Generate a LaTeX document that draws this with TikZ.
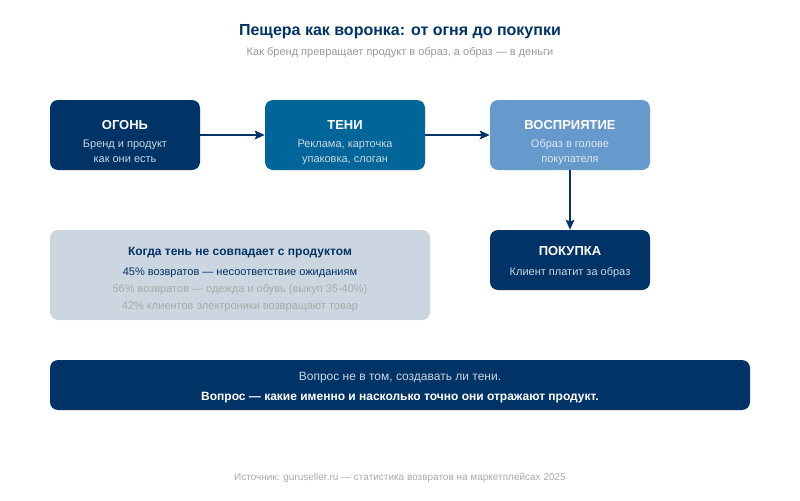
\documentclass[tikz,border=0pt]{standalone}
\usepackage{fontspec}
\setmainfont{Liberation Sans}
\usetikzlibrary{arrows.meta}
\definecolor{navy}{HTML}{003366}
\definecolor{teal}{HTML}{006699}
\definecolor{light}{HTML}{6699CC}
\definecolor{pale}{HTML}{CCD6E0}
\definecolor{gr}{HTML}{999999}
\definecolor{grb}{HTML}{AAAAAA}
\definecolor{subw}{HTML}{CCD6E0}
\definecolor{subl}{HTML}{E0E8F2}
\newcommand{\fpx}[1]{\fontsize{\dimexpr#1pt*3/4\relax}{\dimexpr#1pt*3/4\relax}\selectfont}
\tikzset{x=0.75pt,y=-0.75pt,
  card/.style={rounded corners=6pt,inner sep=0pt},
  txt/.style={inner sep=0pt,anchor=base,align=center},
  conn/.style={navy,line width=1.5pt,-{Stealth[length=7.5pt,width=6.5pt,inset=1.5pt]}}
}
\begin{document}
\begin{tikzpicture}
\useasboundingbox (0,0) rectangle (800,500);
\fill[white] (0,0) rectangle (800,500);
\node[card,fill=navy,minimum width=112.5pt,minimum height=52.5pt] (fire) at (125,135) {};
\node[card,fill=teal,minimum width=120pt,minimum height=52.5pt] (shadow) at (345,135) {};
\node[card,fill=light,minimum width=120pt,minimum height=52.5pt] (percept) at (570,135) {};
\node[card,fill=navy,minimum width=120pt,minimum height=45pt] (buy) at (570,260) {};
\node[card,fill=pale,minimum width=285pt,minimum height=67.5pt] (mis) at (240,275) {};
\node[card,fill=navy,minimum width=525pt,minimum height=37.5pt] (q) at (400,385) {};
\draw[conn] (fire) -- (shadow);
\draw[conn] (shadow) -- (percept);
\draw[conn] (percept) -- (buy);
\node[txt,text=navy,font=\fpx{16}\bfseries] (title) at (400,35) {Пещера как воронка: от огня до покупки};
\node[txt,text=gr,font=\fpx{11}] (subtitle) at (400,55) {Как бренд превращает продукт в образ, а образ — в деньги};
\node[txt,text=white,font=\fpx{13}\bfseries] (t1) at (125,129) {ОГОНЬ};
\node[txt,text=subw,font=\fpx{11}] (s1a) at (125,147) {Бренд и продукт};
\node[txt,text=subw,font=\fpx{11}] (s1b) at (125,162) {как они есть};
\node[txt,text=white,font=\fpx{13}\bfseries] (t2) at (345,129) {ТЕНИ};
\node[txt,text=subw,font=\fpx{11}] (s2a) at (345,147) {Реклама, карточка};
\node[txt,text=subw,font=\fpx{11}] (s2b) at (345,162) {упаковка, слоган};
\node[txt,text=white,font=\fpx{13}\bfseries] (t3) at (570,129) {ВОСПРИЯТИЕ};
\node[txt,text=subl,font=\fpx{11}] (s3a) at (570,147) {Образ в голове};
\node[txt,text=subl,font=\fpx{11}] (s3b) at (570,162) {покупателя};
\node[txt,text=white,font=\fpx{13}\bfseries] (t4) at (570,255) {ПОКУПКА};
\node[txt,text=subw,font=\fpx{11}] (s4) at (570,275) {Клиент платит за образ};
\node[txt,text=navy,font=\fpx{12}\bfseries] (m0) at (240,255) {Когда тень не совпадает с продуктом};
\node[txt,text=navy,font=\fpx{11}] (m1) at (240,275) {45\% возвратов — несоответствие ожиданиям};
\node[txt,text=grb,font=\fpx{11}] (m2) at (240,292) {56\% возвратов — одежда и обувь (выкуп 35-40\%)};
\node[txt,text=grb,font=\fpx{11}] (m3) at (240,309) {42\% клиентов электроники возвращают товар};
\node[txt,text=subw,font=\fpx{12}] (q1) at (400,380) {Вопрос не в том, создавать ли тени.};
\node[txt,text=white,font=\fpx{12}\bfseries] (q2) at (400,400) {Вопрос — какие именно и насколько точно они отражают продукт.};
\node[txt,text=grb,font=\fpx{10}] (src) at (400,480) {Источник: guruseller.ru — статистика возвратов на маркетплейсах 2025};
\end{tikzpicture}
\end{document}
